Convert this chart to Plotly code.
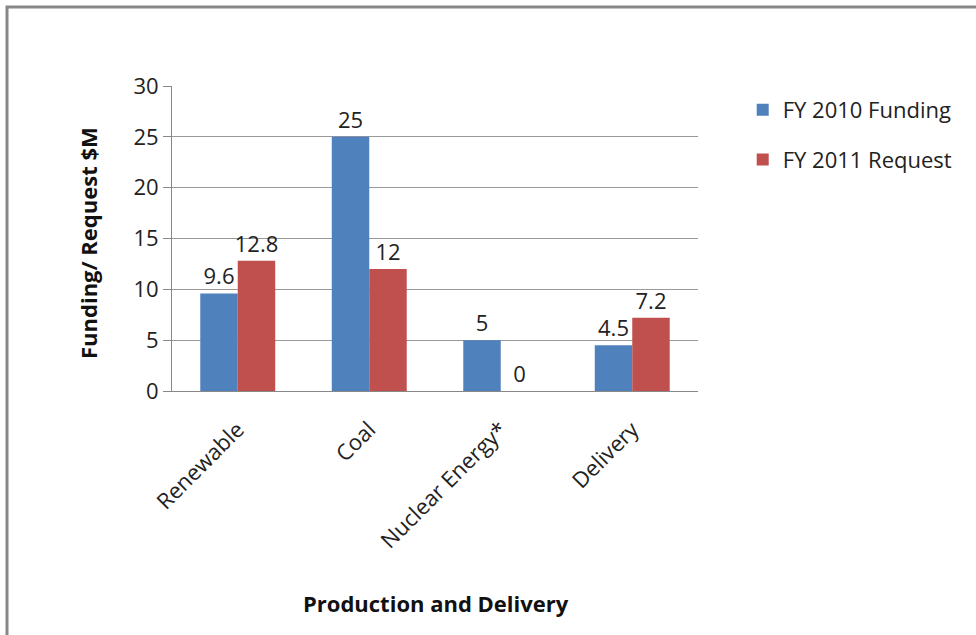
import plotly.graph_objects as go

categories = ["Renewable", "Coal", "Nuclear Energy*", "Delivery"]
fy2010 = [9.6, 25, 5, 4.5]
fy2011 = [12.8, 12, 0, 7.2]
y_ticks = [0, 5, 10, 15, 20, 25, 30]

FONT = "'Open Sans', sans-serif"
FS = 22

fig = go.Figure()
fig.add_trace(go.Bar(
    x=categories, y=fy2010, name="FY 2010 Funding",
    marker=dict(color="#4F81BD", line=dict(width=0)),
    text=[f"{v:g}" for v in fy2010], textposition="outside", constraintext="none",
    textfont=dict(size=FS, color="#222"), cliponaxis=False,
    legendgroup="a",
))
fig.add_trace(go.Bar(
    x=categories, y=fy2011, name="FY 2011 Request",
    marker=dict(color="#C0504D", line=dict(width=0)),
    text=[f"{v:g}" for v in fy2011], textposition="outside", constraintext="none",
    textfont=dict(size=FS, color="#222"), cliponaxis=False,
    legendgroup="b",
))

fig.update_layout(
    width=976, height=635,
    margin=dict(l=172, r=278, t=86, b=244),
    paper_bgcolor="white", plot_bgcolor="white",
    font=dict(family=FONT, size=FS, color="#222"),
    barmode="group", bargap=0.43, bargroupgap=0,
    showlegend=True,
    legend=dict(x=1.085, y=0.99, xanchor="left", yanchor="top",
                traceorder="grouped", tracegroupgap=18,
                font=dict(size=FS, color="#222"), itemwidth=30),
    xaxis=dict(
        showline=True, linecolor="#888", linewidth=1, automargin=False,
        tickangle=-45, ticks="", tickfont=dict(size=FS), ticklabelstandoff=16,
    ),
    yaxis=dict(
        range=[0, 30], tickvals=y_ticks, showgrid=True, gridcolor="#999", gridwidth=1,
        showline=True, linecolor="#888", linewidth=1, automargin=False,
        ticks="outside", ticklen=8, tickcolor="#888",
        tickfont=dict(size=FS), zeroline=False,
    ),
    annotations=[
        dict(text="<b>Production and Delivery</b>", xref="paper", yref="paper",
             x=(436 - 172) / 526, y=(391 - 603) / 305, xanchor="center", yanchor="middle",
             showarrow=False, font=dict(size=FS, color="#111")),
        dict(text="<b>Funding/ Request $M</b>", xref="paper", yref="paper",
             x=(88 - 172) / 526, y=(391 - 243) / 305, xanchor="center", yanchor="middle",
             textangle=-90, showarrow=False, font=dict(size=FS, color="#111")),
    ],
    shapes=[dict(type="rect", xref="paper", yref="paper",
                 x0=(7 - 172) / 526, x1=1.7, y0=-1.0, y1=(391 - 7) / 305,
                 line=dict(color="#888", width=3), fillcolor="rgba(0,0,0,0)", layer="below")],
)

fig.write_html("out.html")
